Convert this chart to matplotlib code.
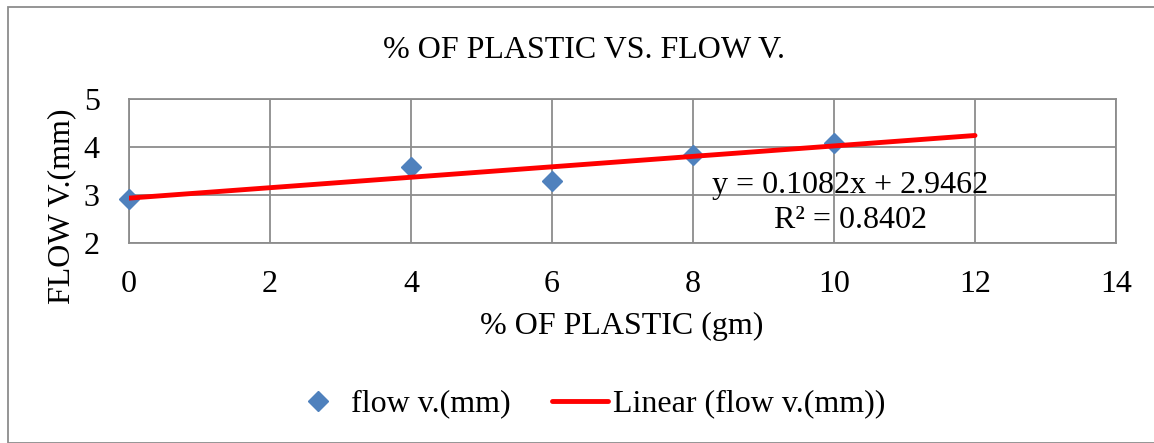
import numpy as np
import matplotlib
matplotlib.use('Agg')
import matplotlib.pyplot as plt
from matplotlib.patches import Rectangle

plastic = [0, 4, 6, 8, 10]
flow = [2.92, 3.6, 3.3, 3.83, 4.1]
trend_x = [0, 12]
eq_text = 'y = 0.1082x + 2.9462'
r2_text = 'R² = 0.8402'

plt.rcParams['font.family'] = ['Liberation Serif', 'DejaVu Serif']
fs = 23

fig = plt.figure(figsize=(11.54, 4.43), dpi=100)
ax = fig.add_axes([129/1154, 1 - 243.3/443, (1116 - 129)/1154, (243.3 - 99.3)/443])

# trend line from the fit
coef = np.polyfit(plastic, flow, 1)
tx = np.array(trend_x)
ax.plot(plastic, flow, 'D', color='#4F81BD', markersize=10, label='flow v.(mm)',
        zorder=3, clip_on=False)
ax.plot(tx, np.polyval(coef, tx), color='#FF0000', lw=3.5, solid_capstyle='round',
        label='Linear (flow v.(mm))', zorder=4)

ax.set_xlim(0, 14)
ax.set_ylim(2, 5)
ax.set_xticks(np.arange(0, 15, 2))
ax.set_yticks([2, 3, 4, 5])
ax.grid(True, color='#8C8C8C', lw=1.3)
for s in ax.spines.values():
    s.set_color('#8C8C8C')
    s.set_linewidth(1.3)
ax.tick_params(length=0, labelsize=fs)
ax.tick_params(axis='x', pad=19)
ax.tick_params(axis='y', pad=21)
ax.set_axisbelow(True)

fig.text(584/1154, 1 - 50/443, '% OF PLASTIC VS. FLOW V.', ha='center', va='center', fontsize=fs)
fig.text(622/1154, 1 - 326/443, '% OF PLASTIC (gm)', ha='center', va='center', fontsize=fs)
fig.text(62/1154, 1 - 206/443, 'FLOW V.(mm)', ha='center', va='center', rotation=90, fontsize=fs)

fig.text(850/1154, 1 - 186/443, eq_text, ha='center', va='center', fontsize=fs)
fig.text(850/1154, 1 - 221/443, r2_text, ha='center', va='center', fontsize=fs)

fig.legend(loc='center', bbox_to_anchor=(588/1154, 1 - 404/443), ncol=2, frameon=False,
           fontsize=fs, handlelength=1.75, handletextpad=0.15, columnspacing=1.3)

fig.patches.append(Rectangle((8/1154, 0.5/443), 1160/1154, 435.5/443, transform=fig.transFigure,
                             fill=False, edgecolor='#8C8C8C', lw=1.3))

fig.savefig('out.png', dpi=100)
